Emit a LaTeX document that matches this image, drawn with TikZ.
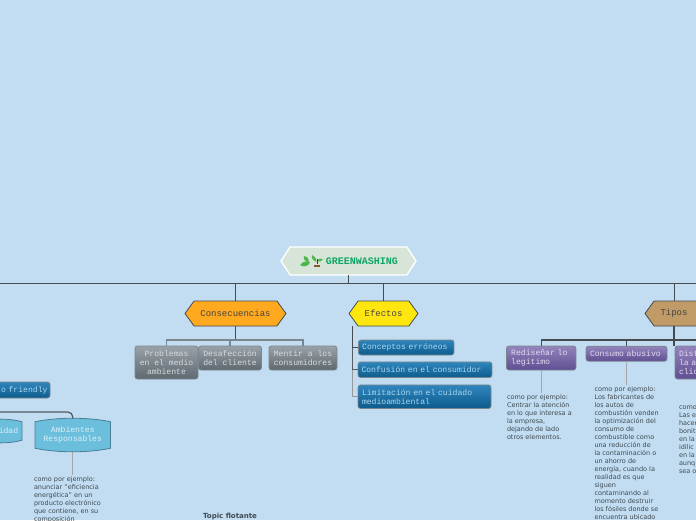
\documentclass[tikz,border=0pt]{standalone}
\usepackage{fontspec}
\setmainfont{DejaVu Sans}
\setmonofont{Liberation Mono}
\usetikzlibrary{arrows.meta, positioning, shapes.symbols, backgrounds}
\definecolor{skybg}{HTML}{C2DDF1}
\definecolor{linedark}{HTML}{464B50}
\definecolor{linegray}{HTML}{7A868E}
\definecolor{notetext}{HTML}{3F4A52}
\definecolor{hextext}{HTML}{444444}
\begin{document}
\begin{tikzpicture}[x=1pt, y=-1pt,
      hexa/.style={shape=signal, signal to=west and east, signal pointer angle=108, draw=linedark,
                   line width=0.8pt, inner sep=0pt, outer sep=0pt, font=\fontsize{9}{10}\selectfont\ttfamily, text=hextext},
      topicbox/.style={draw, rounded corners=2.5pt, line width=0.8pt, inner sep=0pt, outer sep=0pt,
                   font=\fontsize{8.1}{9}\selectfont\ttfamily},
      graybox/.style={topicbox, draw=linegray, top color={rgb,255:red,154;green,162;blue,168}, bottom color={rgb,255:red,94;green,104;blue,111},
                   text={rgb,255:red,214;green,220;blue,224}, align=center},
      bluebox/.style={topicbox, draw=linegray, top color={rgb,255:red,47;green,134;blue,189}, bottom color={rgb,255:red,13;green,91;blue,140},
                   text={rgb,255:red,170;green,216;blue,240}, align=left},
      purplebox/.style={topicbox, draw=linegray, top color={rgb,255:red,147;green,132;blue,188}, bottom color={rgb,255:red,95;green,78;blue,146},
                   text={rgb,255:red,226;green,220;blue,242}, align=left},
      barrelbox/.style={inner sep=0pt, outer sep=0pt, font=\fontsize{8.1}{9}\selectfont\ttfamily, text={rgb,255:red,222;green,240;blue,248}, align=center},
      barrelline/.style={draw={rgb,255:red,74;green,127;blue,150}, line width=0.8pt, fill={rgb,255:red,107;green,190;blue,220}},
      notetxt/.style={inner sep=0pt, outer sep=0pt, anchor=north west, align=left, text=notetext,
                   font=\fontsize{6.5}{8}\selectfont},
      trunk/.style={draw=linedark, line width=1pt},
      branch/.style={draw=linegray, line width=1.3pt},
      noteline/.style={draw=gray!70, line width=0.8pt, shorten >=2pt}]

    % ---- Frame ----
    \useasboundingbox (0,0) rectangle (696,520);
    \clip (0,0) rectangle (696,520);
    \begin{scope}[on background layer]
    \fill[skybg] (0,0) rectangle (696,520);
    \end{scope}

    % ---- Central topic ----
    \node[hexa, signal pointer angle=114, draw=white, line width=1.3pt, fill={rgb,255:red,215;green,229;blue,216},
          minimum width=135pt, minimum height=28pt] (green) at (348.5,261) {};
    \node[inner sep=0pt, font=\fontsize{10}{10}\selectfont\ttfamily\bfseries, text={rgb,255:red,14;green,165;blue,101}] (greentxt) at (362,261) {GREENWASHING};

    % small plant
    \fill[green!60!black!70] (300,265) .. controls (303,261) and (307,261) .. (310,262) .. controls (309,266) and (304,268) .. (300,265) -- cycle;
    \fill[green!60!black!70] (304,256) .. controls (308,257) and (309,259) .. (309,262) .. controls (306,262) and (303,260) .. (304,256) -- cycle;
    \fill[green!60!black!70] (312,255) .. controls (315,256) and (317,259) .. (316.5,262) .. controls (314,261) and (311,259) .. (312,255) -- cycle;
    \fill[green!60!black!70] (317,261) .. controls (319,258) and (321,258) .. (323,259.5) .. controls (321,262) and (319,262) .. (317,261) -- cycle;
    \draw[green!40!black, line width=0.5pt] (317,264) -- (317,259);
    \fill[brown!70!black] (314,264.5) rectangle (320,267);

    % ---- Main line ----
    \coordinate (busL) at (0,283);
    \coordinate (busR) at (696,283);
    \draw[trunk] (busL) -- (busR);
    \draw[trunk, line width=1.3pt] (green.south) -- (green.south |- busL);

    % ---- Consecuencias ----
    \node[hexa, fill={rgb,255:red,255;green,169;blue,31}, minimum width=101pt, minimum height=25pt] (cons) at (235.5,313.5) {Consecuencias};
    \draw[trunk] (cons.north) -- (cons.north |- busL);

    \node[graybox, minimum width=63pt, minimum height=33pt] (prob) at (166.5,362.5) {Problemas\\en el medio\\ambiente};
    \node[graybox, minimum width=63pt, minimum height=24pt] (desa) at (230,358) {Desafección\\del cliente};
    \node[graybox, minimum width=68pt, minimum height=24pt] (ment) at (303,358) {Mentir a los\\consumidores};

    \coordinate (consbus) at (235.5,340);
    \draw[trunk, line width=1.3pt] (cons.south) -- (consbus);
    \draw[branch] (prob.north) -- (prob.north |- consbus) -- (ment.north |- consbus) -- (ment.north);
    \draw[branch] (desa.north) -- (desa.north |- consbus);

    % ---- Efectos ----
    \node[hexa, fill={rgb,255:red,255;green,230;blue,15}, minimum width=69pt, minimum height=25pt] (efec) at (383.5,313.5) {Efectos};
    \draw[trunk] (efec.north) -- (efec.north |- busL);

    \node[bluebox, minimum width=95.5pt, minimum height=15pt, text width=88pt] (conc) at (406.2,347.5) {Conceptos erróneos};
    \node[bluebox, minimum width=134pt, minimum height=15.5pt, text width=127pt] (conf) at (425,369.7) {Confusión en el consumidor};
    \node[bluebox, minimum width=133pt, minimum height=23.5pt, text width=125pt] (limi) at (424.5,396.7) {Limitación en el cuidado\\medioambiental};

    \coordinate (efectop) at (352.7,326);
    \draw[trunk, line width=1.3pt] (efectop) -- (efectop |- conc.west) -- (conc.west);
    \draw[branch, draw=linedark!70!linegray] (efectop |- conc.west) -- (efectop |- conf.west) -- (conf.west);
    \draw[branch, draw=gray!80] (efectop |- conf.west) -- (efectop |- limi.west) -- (limi.west);

    % ---- Tipos ----
    \node[hexa, fill={rgb,255:red,192;green,154;blue,103}, minimum width=65pt, minimum height=25pt] (tipo) at (677.5,313.5) {};
    \node[inner sep=0pt, font=\fontsize{9}{10}\selectfont\ttfamily, text=hextext] (tipotxt) at (674,313.5) {Tipos};
    \draw[trunk] (tipo.north -| tipotxt) -- (tipotxt |- busL);

    \node[purplebox, minimum width=69.5pt, minimum height=24pt, text width=60pt] (redi) at (541.2,358) {Rediseñar lo\\legítimo};
    \node[purplebox, minimum width=81pt, minimum height=15pt, text width=73pt] (abus) at (626.5,353.7) {Consumo abusivo};
    \node[purplebox, minimum width=45pt, minimum height=33pt, text width=37pt] (dist) at (697.5,362.5) {Dist\\la a\\clic};

    \coordinate (tipobus) at (674,340);
    \draw[trunk, line width=1.3pt] (tipotxt |- tipo.south) -- (tipobus);
    \draw[branch, draw=linedark] (redi.north) -- (redi.north |- tipobus) -- (696,340);
    \draw[branch, draw=linedark] (abus.north) -- (abus.north |- tipobus);
    \draw[branch, draw=linedark] (tipobus) -- (tipobus |- dist.north);

    % ---- Tipos: notes ----
    \node[notetxt] (redinote) at (507,395) {como por ejemplo:\\Centrar la atención\\en lo que interesa a\\la empresa,\\dejando de lado\\otros elementos.};
    \node[notetxt] (abusnote) at (594.5,386.5) {como por ejemplo:\\Los fabricantes de\\los autos de\\combustión venden\\la optimización del\\consumo de\\combustible como\\una reducción de\\la contaminación o\\un ahorro de\\energía, cuando la\\realidad es que\\siguen\\contaminando al\\momento destruir\\los fósiles donde se\\encuentra ubicado};
    \node[notetxt] (distnote) at (679,405) {como por ejemplo:\\Las e\\hacer\\bonit\\en la\\idílic\\en la\\aunq\\sea o};
    \draw[noteline] (redi.south) -- (redi.south |- redinote.north);
    \draw[noteline] (abus.south) -- (abus.south |- abusnote.north);

    % ---- Left branch ----
    \node[bluebox, minimum width=80pt, minimum height=16pt, text width=75pt, align=right] (frie) at (10,390) {o friendly};

    \node[barrelbox, minimum width=44pt, minimum height=18.5pt] (cali) at (0,431) {\hspace*{17pt}idad};
    \node[barrelbox, minimum width=75.5pt, minimum height=26.5pt] (ambi) at (72.8,435) {Ambientes\\Responsables};

    \begin{scope}[on background layer]
    \path[barrelline] (cali.north west) .. controls +(12,-3.5) and +(-12,-3.5) .. (cali.north east) -- (cali.south east)
          .. controls +(-12,3.5) and +(12,3.5) .. (cali.south west) -- cycle;
    \path[barrelline] (ambi.north west) .. controls +(22,-4.7) and +(-22,-4.7) .. (ambi.north east) -- (ambi.south east)
          .. controls +(-22,4.7) and +(22,4.7) .. (ambi.south west) -- cycle;
    \end{scope}

    \coordinate (friebus) at (0,412);
    \coordinate (ambitop) at (72.8,418.5);
    \draw[branch, draw=linedark!70!linegray, rounded corners=5pt] (friebus) -- (ambitop |- friebus) -- (ambitop);

    \coordinate (ambibot) at (72.8,452);
    \node[notetxt] (ambinote) at (34,476.5) {como por ejemplo:\\anunciar “eficiencia\\energética” en un\\producto electrónico\\que contiene, en su\\composición};
    \draw[noteline] (ambibot) -- (ambibot |- ambinote.north);

    % ---- Floating topic ----
    \node[inner sep=0pt, font=\fontsize{7}{8}\selectfont\bfseries, text=notetext] (flot) at (230,517) {Topic flotante};

\end{tikzpicture}
\end{document}
